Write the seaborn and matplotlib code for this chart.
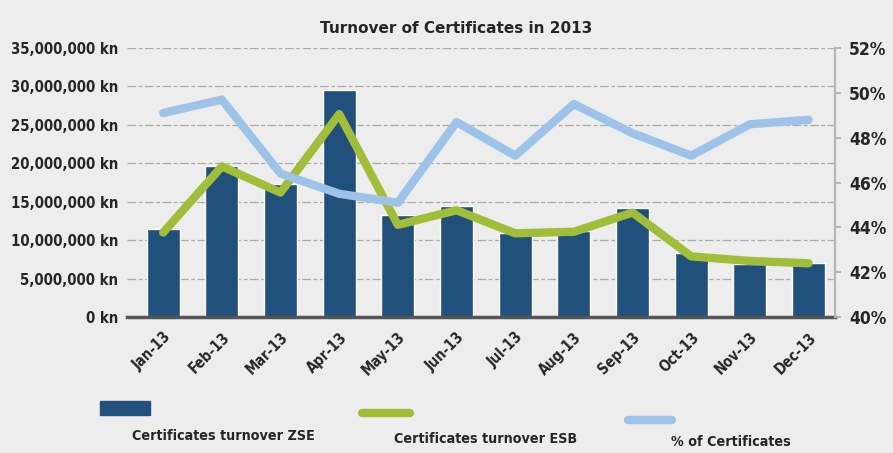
import numpy as np
import pandas as pd
import matplotlib.pyplot as plt
import matplotlib.ticker as mticker
from matplotlib.lines import Line2D
from matplotlib.patches import Rectangle
import seaborn as sns

# values
months = ['Jan-13', 'Feb-13', 'Mar-13', 'Apr-13', 'May-13', 'Jun-13',
          'Jul-13', 'Aug-13', 'Sep-13', 'Oct-13', 'Nov-13', 'Dec-13']
zse_turnover = [11.5e6, 19.6e6, 17.3e6, 29.6e6, 13.3e6, 14.4e6,
                11.0e6, 11.2e6, 14.2e6, 8.3e6, 6.9e6, 7.0e6]
esb_turnover = [11.0e6, 19.6e6, 16.2e6, 26.4e6, 12.0e6, 13.9e6,
                10.9e6, 11.1e6, 13.6e6, 7.9e6, 7.3e6, 7.0e6]
pct_certificates = [49.1, 49.7, 46.4, 45.5, 45.1, 48.7,
                    47.2, 49.5, 48.2, 47.2, 48.6, 48.8]

series_names = ['Certificates turnover ZSE', 'Certificates turnover ESB', '% of Certificates']
dark_blue = '#21507C'
green = '#A0BE38'
light_blue = '#9DC3E8'
bg = '#EDEDED'

df = pd.DataFrame({'month': months, 'zse': zse_turnover,
                   'esb': esb_turnover, 'pct': pct_certificates})

sns.set_theme(style='white')
plt.rcParams['font.family'] = ['DejaVu Sans']
plt.rcParams['font.stretch'] = 'condensed'
plt.rcParams['font.weight'] = 'bold'

fig = plt.figure(figsize=(8.93, 4.53), dpi=100, facecolor=bg)
ax1 = fig.add_axes([0.142, 0.300, 0.793, 0.594])
ax1.set_facecolor(bg)
ax2 = ax1.twinx()
ax2.patch.set_visible(False)

sns.barplot(data=df, x='month', y='zse', color=dark_blue, saturation=1,
            width=0.56, ax=ax1, zorder=2)
sns.lineplot(data=df, x='month', y='esb', color=green, lw=6, sort=False,
             ax=ax1, zorder=3)
sns.lineplot(data=df, x='month', y='pct', color=light_blue, lw=6, sort=False,
             ax=ax2, zorder=3)

# left axis
ax1.set_ylim(0, 35e6)
ax1.set_yticks(np.arange(0, 35e6 + 1, 5e6))
ax1.yaxis.set_major_formatter(mticker.FuncFormatter(lambda v, p: f'{v:,.0f} kn'))
ax1.set_xlim(-0.62, 11.45)
ax1.set_xlabel('')
ax1.set_ylabel('')
ax1.yaxis.grid(True, color='#ababab', lw=0.9, ls=(0, (7, 2, 3, 2)), zorder=0)
ax1.set_axisbelow(True)
ax1.tick_params(axis='y', length=0, pad=6, labelsize=10.7)
ax1.tick_params(axis='x', length=0, pad=9, labelsize=10.5)
for lab in ax1.get_xticklabels():
    lab.set_rotation(45)
    lab.set_ha('right')
    lab.set_rotation_mode('anchor')
    lab.set_fontweight('bold')
for s in ['left', 'top', 'right']:
    ax1.spines[s].set_visible(False)
ax1.spines['bottom'].set_color('#555555')
ax1.spines['bottom'].set_linewidth(2.5)

# right axis
ax2.set_ylim(40, 52)
ax2.set_yticks(np.arange(40, 53, 2))
ax2.yaxis.set_major_formatter(mticker.FuncFormatter(lambda v, p: f'{v:.0f}%'))
ax2.set_ylabel('')
ax2.tick_params(axis='y', length=4, width=1.2, color='#aaaaaa', pad=6, labelsize=12.5)
for s in ['left', 'top', 'bottom']:
    ax2.spines[s].set_visible(False)
ax2.spines['right'].set_color('#b5b5b5')
ax2.spines['right'].set_linewidth(1.5)

fig.text(0.511, 0.937, 'Turnover of Certificates in 2013', ha='center', va='center',
         fontsize=11, fontweight='bold', family='DejaVu Sans', fontstretch='normal')

# legend: swatch above each label
fig.add_artist(Rectangle((0.112, 0.083), 0.056, 0.032, transform=fig.transFigure,
                         color=dark_blue))
fig.add_artist(Line2D([0.405, 0.459], [0.088, 0.088], transform=fig.transFigure,
                      color=green, lw=6))
fig.add_artist(Line2D([0.703, 0.753], [0.073, 0.073], transform=fig.transFigure,
                      color=light_blue, lw=6))
fig.text(0.250, 0.037, series_names[0], ha='center', va='center', fontsize=10.3)
fig.text(0.544, 0.031, series_names[1], ha='center', va='center', fontsize=10.3)
fig.text(0.819, 0.024, series_names[2], ha='center', va='center', fontsize=10.3)

fig.savefig('out.png', dpi=100, facecolor=bg)
